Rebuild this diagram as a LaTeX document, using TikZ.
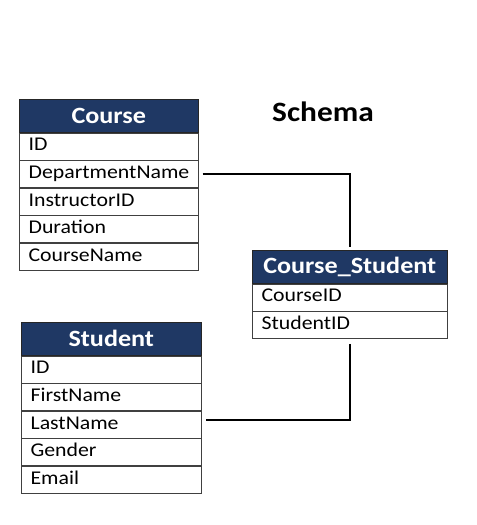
\documentclass[tikz,border=0pt]{standalone}
\usepackage{fontspec}
\setmainfont{Carlito}[FakeStretch=1.12]
\usetikzlibrary{positioning}
\definecolor{navy}{HTML}{1F3864}

\begin{document}
\begin{tikzpicture}
[   x=0.75pt,y=-0.75pt,
    hnode/.style={draw=black!85,fill=navy,text=white,font=\fontsize{17.5}{19}\selectfont\bfseries,
        text width=#1,align=center,inner xsep=0pt,minimum height=24.75pt,anchor=north west},
    rnode/.style={draw=black!75,fill=white,font=\fontsize{14.6}{16}\selectfont,
        text width=#1-14pt,align=left,inner xsep=7pt,minimum height=20.25pt,
        text height=10pt,text depth=3pt},
]
\tikzset{link/.style={draw,line width=1.5pt}}
\useasboundingbox (0,0) rectangle (477,525);
\node[font=\fontsize{21}{23}\selectfont\bfseries] (title) at (323,112) {Schema};
% tables
\node[hnode=134.25pt] (course-0) at (19,99) {Course};
\foreach \f [count=\i] in {ID,DepartmentName,InstructorID,Duration,CourseName}
{
	\pgfmathtruncatemacro\j{\i-1}
	\node[rnode=134.25pt,below=0pt of course-\j] (course-\i) {\f};
}
\node[hnode=146.25pt] (cs-0) at (252,250) {Course\_Student};
\foreach \f [count=\i] in {CourseID,StudentID}
{
	\pgfmathtruncatemacro\j{\i-1}
	\node[rnode=146.25pt,below=0pt of cs-\j] (cs-\i) {\f};
}
\node[hnode=135pt] (student-0) at (21,322) {Student};
\foreach \f [count=\i] in {ID,FirstName,LastName,Gender,Email}
{
	\pgfmathtruncatemacro\j{\i-1}
	\node[rnode=135pt,below=0pt of student-\j] (student-\i) {\f};
}
% relations
\path[link] ([xshift=3pt]course-2.east) -| ([yshift=2pt]cs-0.north);
\path[link] ([yshift=-4pt]cs-2.south) |- ([xshift=3pt,yshift=3pt]student-3.east);
\end{tikzpicture}
\end{document}
